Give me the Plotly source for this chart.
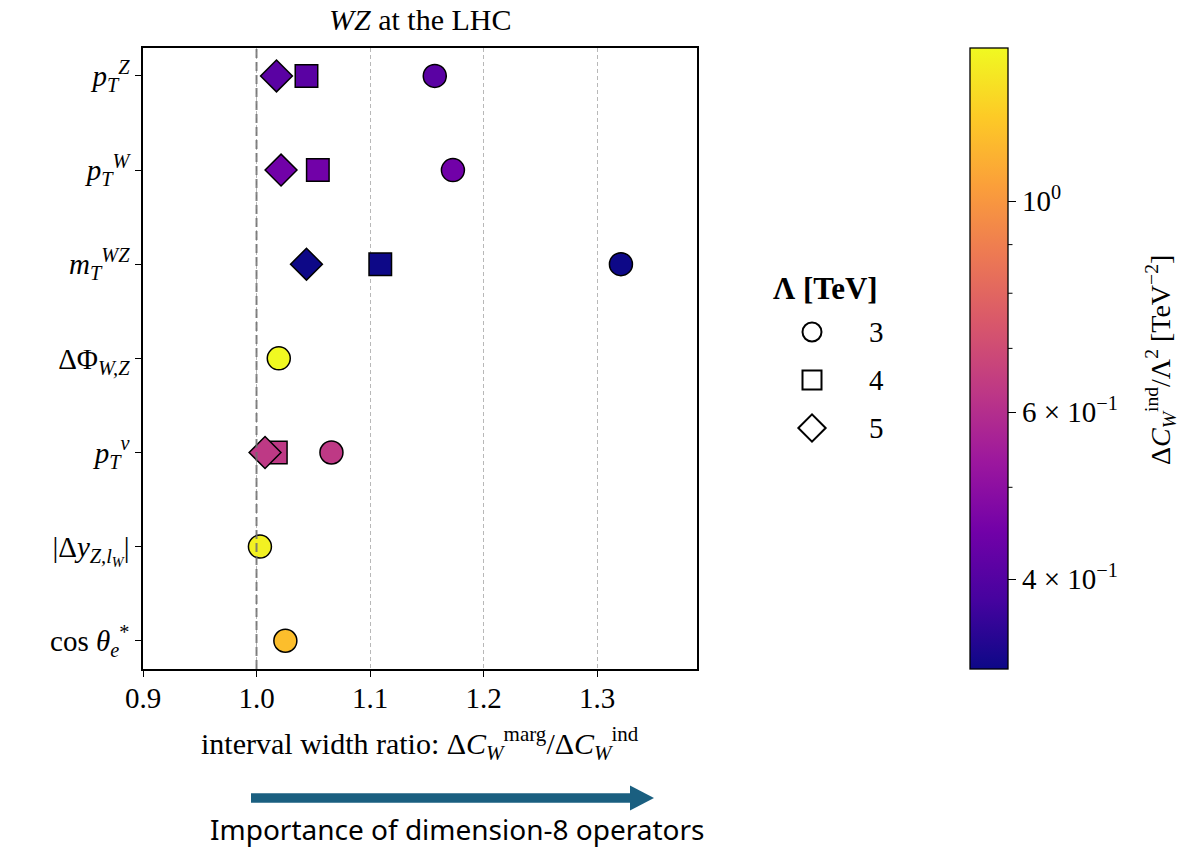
import numpy as np
import plotly.graph_objects as go

# ---- data -------------------------------------------------------------
observable_labels = [
    "<i>p</i><sub><i>T</i></sub><sup><i>Z</i></sup>",
    "<i>p</i><sub><i>T</i></sub><sup><i>W</i></sup>",
    "<i>m</i><sub><i>T</i></sub><sup><i>WZ</i></sup>",
    "ΔΦ<sub><i>W,Z</i></sub>",
    "<i>p</i><sub><i>T</i></sub><sup><i>ν</i></sup>",
    "|Δ<i>y</i><sub><i>Z,l</i><sub><i>W</i></sub></sub>|",
    "cos <i>θ</i><sub><i>e</i></sub><sup>*</sup>",
]
# interval width ratio dC_marg / dC_ind for each cutoff scale (None = not shown)
ratio_lambda3 = [1.157, 1.173, 1.321, 1.0196, 1.066, 1.003, 1.0254]
ratio_lambda4 = [1.044, 1.054, 1.109, None, 1.017, None, None]
ratio_lambda5 = [1.0176, 1.0216, 1.044, None, 1.0075, None, None]
# individual interval width dC_W^ind / Lambda^2 [TeV^-2] (colour)
dc_ind = [0.410, 0.449, 0.322, 1.45, 0.634, 1.41, 1.17]

lambda_values = [3, 4, 5]
lambda_symbols = ["circle", "square", "diamond"]
lambda_sizes = [23, 22.5, 24.5]

cbar_major = [0.4, 0.6, 1.0]
cbar_major_text = ["4 × 10<sup>−1</sup>", "6 × 10<sup>−1</sup>", "10<sup>0</sup>"]
cbar_minor = [0.5, 0.7, 0.8, 0.9]

# ---- layout constants (pixels) ---------------------------------------
W, H = 1182, 849
AX_L, AX_R, AX_T, AX_B = 143, 697, 47.7, 669
CB_L, CB_R = 970, 1008
SERIF = "Liberation Serif"
FS = 29


def px(x):
    return x / W


def py(y):
    return 1 - y / H


n_obs = len(observable_labels)
y_pos = list(range(n_obs - 1, -1, -1))
log_c = np.log10(dc_ind)
cmin, cmax = float(log_c.min()), float(log_c.max())

fig = go.Figure()

ratios = [ratio_lambda3, ratio_lambda4, ratio_lambda5]
for k, (lam, sym, size, rr) in enumerate(zip(lambda_values, lambda_symbols, lambda_sizes, ratios)):
    xs, ys, cs = [], [], []
    for i, r in enumerate(rr):
        if r is None:
            continue
        xs.append(r)
        ys.append(y_pos[i])
        cs.append(log_c[i])
    marker = dict(
        symbol=sym, size=size, color=cs, colorscale="Plasma",
        cmin=cmin, cmax=cmax, line=dict(color="black", width=1.5),
    )
    if k == 0:
        marker["showscale"] = True
        marker["colorbar"] = dict(
            x=px(CB_L), xanchor="left", xpad=0, ypad=0,
            y=py((AX_T + AX_B) / 2), yanchor="middle",
            len=AX_B - AX_T, lenmode="pixels",
            thickness=CB_R - CB_L, thicknessmode="pixels",
            outlinecolor="black", outlinewidth=1.3,
            tickvals=list(np.log10(cbar_major)), ticktext=cbar_major_text,
            ticks="outside", ticklen=8, tickwidth=1.2, tickcolor="black",
            tickfont=dict(family=SERIF, size=FS, color="black"),
        )
    fig.add_trace(go.Scatter(
        x=xs, y=ys, mode="markers", marker=marker,
        showlegend=False, hoverinfo="skip",
    ))

# ---- axes --------------------------------------------------------------
fig.update_xaxes(
    domain=[px(AX_L), px(AX_R)], range=[0.9, 1.388], automargin=False,
    tick0=0.9, dtick=0.1, tickformat=".1f", layer="above traces",
    showgrid=True, gridcolor="#b8b8b8", gridwidth=0.8, griddash="4px,3px",
    zeroline=False, showline=True, linecolor="black", linewidth=1.5, mirror=True,
    ticks="outside", ticklen=6, tickwidth=1.2, tickcolor="black",
    ticklabelstandoff=-4,
    tickfont=dict(family=SERIF, size=FS, color="black"),
)
fig.update_yaxes(
    domain=[py(AX_B), py(AX_T)], range=[-0.3, n_obs - 1 + 0.3], automargin=False,
    tickvals=y_pos, ticktext=observable_labels,
    showgrid=False, zeroline=False, showline=True, linecolor="black",
    linewidth=1.5, mirror=True,
    ticks="outside", ticklen=6, tickwidth=1.2, tickcolor="black",
    tickfont=dict(family=SERIF, size=FS, color="black"),
)

shapes = []
# reference line at ratio = 1 (drawn over the markers)
shapes.append(dict(type="line", xref="x", yref="paper", x0=1.0, x1=1.0,
                   y0=py(AX_B), y1=py(AX_T),
                   line=dict(color="rgba(110,110,110,0.85)", width=2, dash="9px,4px"),
                   layer="above"))
# minor ticks on the logarithmic colour bar
for v in cbar_minor:
    t = (np.log10(v) - cmin) / (cmax - cmin)
    yy = py(AX_B - t * (AX_B - AX_T))
    shapes.append(dict(type="line", xref="paper", yref="paper",
                       x0=px(CB_R), x1=px(CB_R + 4.5), y0=yy, y1=yy,
                       line=dict(color="black", width=1)))

# arrow below the x axis
ARROW_Y, ARROW_X0, ARROW_X1, HEAD_LEN, SHAFT_W, HEAD_W = 798, 251, 654, 24, 9.5, 25
arrow_color = "#1a5f80"
shapes.append(dict(type="rect", xref="paper", yref="paper",
                   x0=px(ARROW_X0), x1=px(ARROW_X1 - HEAD_LEN + 1),
                   y0=py(ARROW_Y + SHAFT_W / 2), y1=py(ARROW_Y - SHAFT_W / 2),
                   fillcolor=arrow_color, line=dict(width=0)))
hx = ARROW_X1 - HEAD_LEN
head_path = (f"M {px(hx)} {py(ARROW_Y - HEAD_W / 2)} L {px(ARROW_X1)} {py(ARROW_Y)} "
             f"L {px(hx)} {py(ARROW_Y + HEAD_W / 2)} Z")
shapes.append(dict(type="path", xref="paper", yref="paper", path=head_path,
                   fillcolor=arrow_color, line=dict(width=0)))


def note(text, x, y, size=FS, family=SERIF, **kw):
    return dict(text=text, x=px(x), y=py(y), xref="paper", yref="paper",
                xanchor=kw.pop("xanchor", "center"), yanchor="middle",
                showarrow=False, font=dict(family=family, size=size, color="black"), **kw)


annotations = [
    note("<i>WZ</i> at the LHC", (AX_L + AX_R) / 2, 19, size=30),
    note("interval width ratio: Δ<i>C</i><sub><i>W</i></sub><sup>marg</sup>/Δ<i>C</i><sub><i>W</i></sub><sup>ind</sup>",
         (AX_L + AX_R) / 2, 743, size=30),
    note("Importance of dimension-8 operators", 457, 829, size=28, family="Noto Sans",
         borderpad=0),
    note("Δ<i>C</i><sub><i>W</i></sub><sup>ind</sup>/Λ<sup>2</sup> [TeV<sup>−2</sup>]",
         1160, 360, size=28, textangle=-90),
    note("<b>Λ [TeV]</b>", 825, 288, size=31),
]

# ---- legend for the cutoff scale --------------------------------------
LEG_MARK_X, LEG_TEXT_X, LEG_Y0, LEG_DY = 812, 876, 332, 48
for j, (lam, sym) in enumerate(zip(lambda_values, lambda_symbols)):
    yy = LEG_Y0 + j * LEG_DY
    fig.add_trace(go.Scatter(
        x=[LEG_MARK_X], y=[yy], xaxis="x2", yaxis="y2", mode="markers",
        marker=dict(symbol=sym, size=19 if sym != "diamond" else 21,
                    color="white", line=dict(color="black", width=2)),
        showlegend=False, hoverinfo="skip",
    ))
    annotations.append(note(str(lam), LEG_TEXT_X, yy))

fig.update_layout(
    width=W, height=H, margin=dict(l=0, r=0, t=0, b=0, autoexpand=False),
    paper_bgcolor="white", plot_bgcolor="rgba(0,0,0,0)",
    xaxis2=dict(domain=[0, 1], range=[0, W], visible=False, anchor="y2", automargin=False),
    yaxis2=dict(domain=[0, 1], range=[H, 0], visible=False, anchor="x2", automargin=False),
    shapes=shapes, annotations=annotations, showlegend=False,
)

fig.write_html("out.html")
